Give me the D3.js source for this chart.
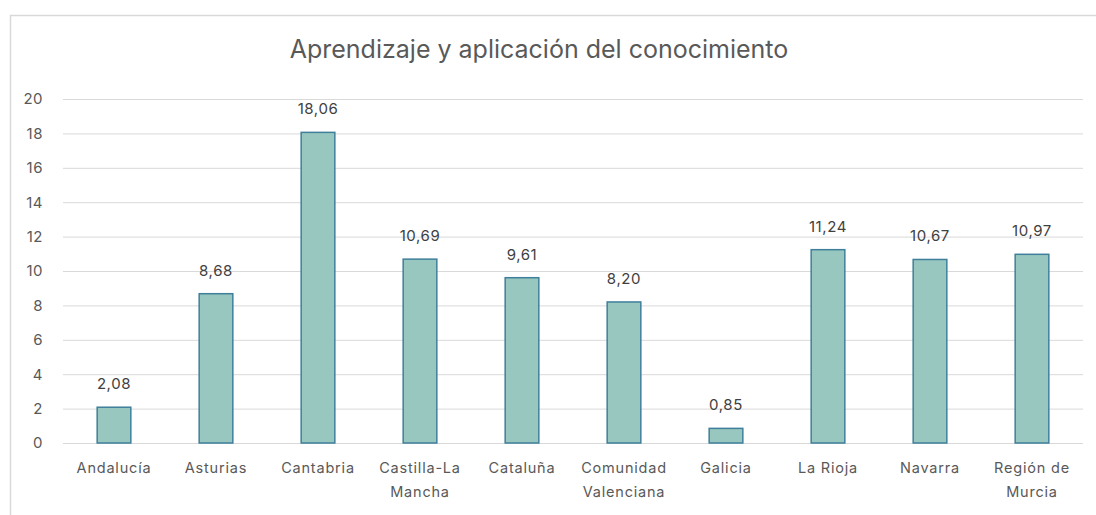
<!DOCTYPE html>
<html><head><meta charset="utf-8">
<script src="https://cdn.jsdelivr.net/npm/d3@7"></script>
<style>body{margin:0;background:#fff;}svg{display:block;}text{font-family:Inter, "Liberation Sans", sans-serif;}</style>
</head><body>
<svg id="c" width="1096" height="515"></svg>
<script>
const categories = ["Andalucía","Asturias","Cantabria","Castilla-La Mancha","Cataluña","Comunidad Valenciana","Galicia","La Rioja","Navarra","Región de Murcia"];
const labelLines = [["Andalucía"],["Asturias"],["Cantabria"],["Castilla-La","Mancha"],["Cataluña"],["Comunidad","Valenciana"],["Galicia"],["La Rioja"],["Navarra"],["Región de","Murcia"]];
const values = [2.08,8.68,18.06,10.69,9.61,8.20,0.85,11.24,10.67,10.97];
const yTicks = [0,2,4,6,8,10,12,14,16,18,20];
const title = "Aprendizaje y aplicación del conocimiento";

const svg = d3.select("#c");
svg.append("rect").attr("x",10.5).attr("y",15.5).attr("width",1100).attr("height",520)
  .attr("fill","#fff").attr("stroke","#d9d9d9").attr("stroke-width",1.5);

const x = d3.scaleBand().domain(categories).range([63,1083]).paddingInner(0.67).paddingOuter(0.335);
const y = d3.scaleLinear().domain([0,20]).range([443,99]);

svg.append("text").attr("x",539).attr("y",58).attr("text-anchor","middle")
  .attr("font-size",25).attr("fill","#595959").text(title);

const gy = svg.append("g").attr("transform","translate(63,0)")
  .call(d3.axisLeft(y).tickValues(yTicks).tickSize(-1020).tickPadding(20).tickFormat(d3.format("d")));
gy.select(".domain").remove();
gy.selectAll(".tick line").attr("stroke","#d9d9d9").attr("stroke-width",1);
gy.selectAll(".tick text").attr("fill","#595959").attr("font-size",15).attr("letter-spacing",0.5)
  .style("font-family","Inter, 'Liberation Sans', sans-serif");

svg.append("g").selectAll("rect").data(values).join("rect")
  .attr("x",(d,i)=>x(categories[i])).attr("width",x.bandwidth())
  .attr("y",d=>y(d)).attr("height",d=>y(0)-y(d))
  .attr("fill","#97c7be").attr("stroke","#3f7f9b").attr("stroke-width",1.5);

const fmt = d=>d3.format(".2f")(d).replace(".",",");
svg.append("g").selectAll("text").data(values).join("text")
  .attr("x",(d,i)=>x(categories[i])+x.bandwidth()/2).attr("y",d=>y(d)-18)
  .attr("text-anchor","middle").attr("font-size",15).attr("letter-spacing",0.6).attr("fill","#404040").text(fmt);

const gx = svg.append("g");
labelLines.forEach((lines,i)=>{
  const cx = x(categories[i])+x.bandwidth()/2;
  const t = gx.append("text").attr("x",cx).attr("y",473)
    .attr("text-anchor","middle").attr("font-size",14.5).attr("letter-spacing",0.8).attr("fill","#595959");
  lines.forEach((l,j)=>t.append("tspan").attr("x",cx).attr("dy",j?24:0).text(l));
});
</script>
</body></html>
